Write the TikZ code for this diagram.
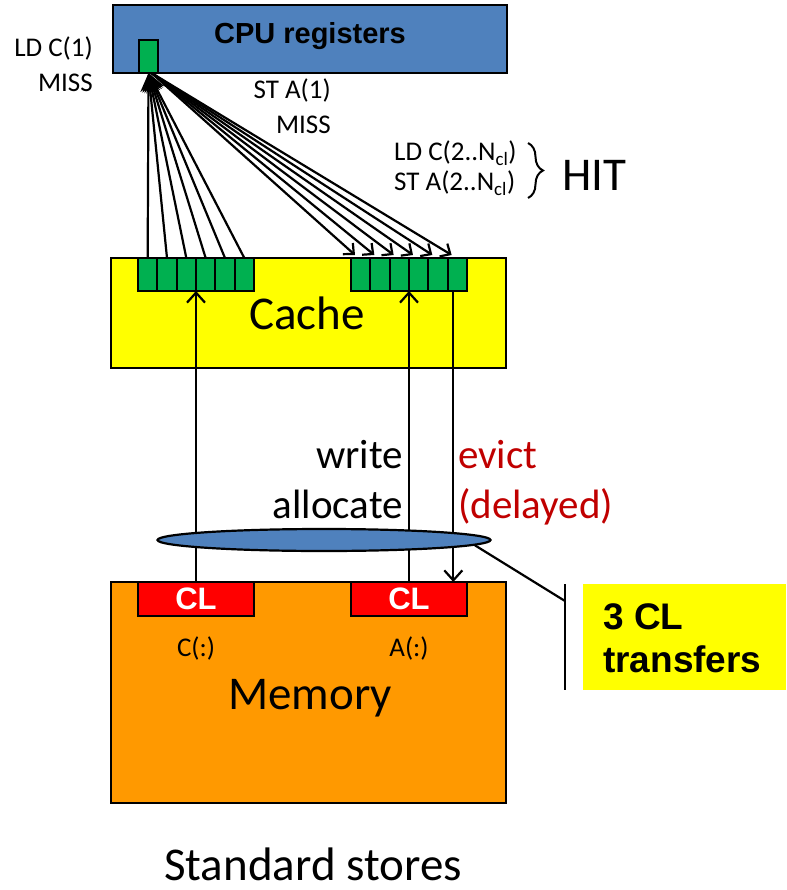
\documentclass[tikz,border=0pt]{standalone}
\usepackage{fontspec}
\setmainfont{Carlito}
\newfontfamily\arialf{Liberation Sans}
\usetikzlibrary{arrows.meta,shapes.geometric,decorations.pathreplacing}
\definecolor{cpublue}{HTML}{4F81BD}
\definecolor{regreen}{HTML}{00B050}
\definecolor{cacheyellow}{HTML}{FFFF00}
\definecolor{memorange}{HTML}{FF9900}
\definecolor{clred}{HTML}{FF0000}
\definecolor{evred}{HTML}{C00000}
\begin{document}
\begin{tikzpicture}[x=1pt,y=-1pt,
  box/.style={draw=black, line width=2.4pt, anchor=north west, inner sep=0pt, outer sep=0pt},
  cell/.style={draw=black, line width=2.2pt, fill=regreen, anchor=north west, inner sep=0pt, outer sep=0pt, minimum width=19.33pt, minimum height=33pt},
  clbox/.style={draw=black, line width=2.2pt, fill=clred, anchor=north west, inner sep=0pt, outer sep=0pt, minimum width=116pt, minimum height=34pt},
  conn/.style={draw=black, line width=2.2pt},
  small/.style={font=\fontsize{27}{30}\selectfont, inner sep=0pt},
  mid/.style={font=\fontsize{41}{46}\selectfont, inner sep=0pt},
  big/.style={font=\fontsize{47}{50}\selectfont, inner sep=0pt},
  boldlab/.style={font=\arialf\bfseries\fontsize{29}{32}\selectfont, inner sep=0pt}
]
\useasboundingbox (0,0) rectangle (786,890);

% CPU registers
\node[box, fill=cpublue, minimum width=394pt, minimum height=68pt] (cpu) at (113,5) {};
\node[boldlab, anchor=base] (cputxt) at (310,44) {CPU registers};
\node[cell, minimum width=19pt, minimum height=33pt] (reg) at (139,40) {};
\node[small, anchor=base east] (ldc1) at (93,57) {LD C(1)};
\node[small, anchor=base east] (miss1) at (93,92) {MISS};
\node[small, anchor=base east] (sta1) at (331,99) {ST A(1)};
\node[small, anchor=base east] (miss2) at (331,134) {MISS};

% HIT
\node[small, anchor=base west] (ldc2) at (394,161) {LD C(2..N\textsubscript{cl})};
\node[small, anchor=base west] (sta2) at (394,191) {ST A(2..N\textsubscript{cl})};
\draw[line width=2pt, decorate, decoration={brace, amplitude=15pt, aspect=0.5}] (528,143) -- (528,198);
\node[big, anchor=base west] (hit) at (562,191) {HIT};

% Cache
\node[box, fill=cacheyellow, minimum width=395pt, minimum height=110pt] (cache) at (111,258) {};
\node[big, anchor=base] (cachetxt) at (307,329) {Cache};
\foreach \k in {1,...,6} {
  \node[cell] (c\k) at ({138+19.33*(\k-1)},258) {};
  \node[cell] (d\k) at ({351+19.33*(\k-1)},258) {};
}

% Memory
\node[box, fill=memorange, minimum width=395pt, minimum height=221pt] (mem) at (111,582) {};
\node[clbox] (clc) at (138,582) {};
\node[clbox] (cla) at (351,582) {};
\node[font=\arialf\bfseries\fontsize{31}{34}\selectfont, text=white, inner sep=0pt] at (clc.center) {CL};
\node[font=\arialf\bfseries\fontsize{31}{34}\selectfont, text=white, inner sep=0pt] at (cla.center) {CL};
\node[small, anchor=base] (cc) at (196,656) {C(:)};
\node[small, anchor=base] (aa) at (409,656) {A(:)};
\node[big, anchor=base] (memtxt) at (310,709) {Memory};

% arrows register <-> cache
\foreach \k in {1,...,6} {
  \draw[conn, -{Stealth[length=19pt,width=16pt]}] (c\k.north) -- (reg.south);
}
\foreach \k in {1,...,6} {
  \draw[conn, -{Straight Barb[length=8pt,width=15pt]}] ([xshift=3pt]reg.south) -- ([xshift=4pt,yshift=3pt]d\k.north west);
}

% memory <-> cache
\draw[conn, -{Straight Barb[length=10pt,width=18pt]}] (clc.north) -- (clc.north |- c1.south);
\draw[conn, -{Straight Barb[length=10pt,width=18pt]}] (cla.north) -- (cla.north |- d1.south);
\draw[conn, -{Straight Barb[length=10pt,width=18pt]}] ([xshift=-4pt]d6.south) -- ([xshift=-4pt]d6.south |- cla.north);

\node[mid, anchor=base east] (wr) at (403,468) {write};
\node[mid, anchor=base east] (al) at (403,518) {allocate};
\node[mid, anchor=base west, text=evred] (ev) at (458,468) {evict};
\node[mid, anchor=base west, text=evred] (dl) at (458,518) {(delayed)};

% bus ellipse
\node[ellipse, draw=black, line width=2.2pt, fill=cpublue, minimum width=333pt, minimum height=22pt, inner sep=0pt] (bus) at (324,540) {};

% transfers
\coordinate (bt) at (565,584);
\coordinate (bb) at (565,690);
\coordinate (bm) at (565,601);
\draw[conn] (bus.-2) -- (bm);
\draw[conn] (bt) -- (bb);
\node[fill=cacheyellow, anchor=north west, minimum width=203pt, minimum height=106pt, inner sep=0pt] (tr) at (583,584) {};
\node[font=\arialf\bfseries\fontsize{37}{42}\selectfont, anchor=base west, inner sep=0pt] (t1) at (603,629) {3 CL};
\node[font=\arialf\bfseries\fontsize{37}{42}\selectfont, anchor=base west, inner sep=0pt] (t2) at (603,672) {transfers};

\node[big, anchor=base] (std) at (313,880) {Standard stores};
\end{tikzpicture}
\end{document}
